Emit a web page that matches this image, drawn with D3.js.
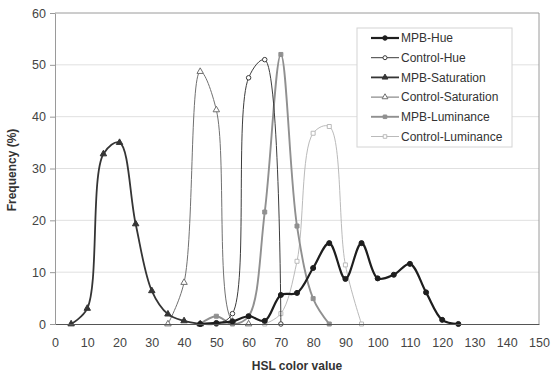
<!DOCTYPE html>
<html>
<head>
<meta charset="utf-8">
<script src="https://cdn.jsdelivr.net/npm/d3@7"></script>
<style>
  body { margin: 0; background: #fff; }
  svg { font-family: "Liberation Sans", Arial, sans-serif; }
</style>
</head>
<body>
<div id="viz"></div>
<script>
const width = 551;
const height = 376;
const margin = {top: 13, right: 11, bottom: 52, left: 55};

// HSL colour values (x) shared by every series, null = no point
const hslValues = [5, 10, 15, 20, 25, 30, 35, 40, 45, 50, 55, 60, 65, 70, 75, 80, 85, 90, 95, 100, 105, 110, 115, 120, 125];
const mpbHue = [null, null, null, null, null, null, null, null, 0, 0.2, 0.5, 1.5, 0.6, 5.6, 6, 10.8, 15.6, 8.7, 15.6, 8.8, 9.5, 11.6, 6.1, 0.8, 0];
const controlHue = [null, null, null, null, null, null, null, null, 0, 0, 2, 47.5, 51, 0, null, null, null, null, null, null, null, null, null, null, null];
const mpbSaturation = [0, 3, 32.8, 35, 19.3, 6.4, 1.9, 0.6, 0, null, null, null, null, null, null, null, null, null, null, null, null, null, null, null, null];
const controlSaturation = [null, null, null, null, null, null, 0, 8, 48.7, 41.3, 0.5, 0, null, null, null, null, null, null, null, null, null, null, null, null, null];
const mpbLuminance = [null, null, null, null, null, null, null, null, 0, 1.5, 0, 1.5, 21.6, 52, 18.9, 4.9, 0, null, null, null, null, null, null, null, null];
const controlLuminance = [null, null, null, null, null, null, null, null, null, null, null, null, 0, 2, 12.1, 36.8, 38.1, 11.4, 0, null, null, null, null, null, null];

const xTicks = [0, 10, 20, 30, 40, 50, 60, 70, 80, 90, 100, 110, 120, 130, 140, 150];
const yTicks = [0, 10, 20, 30, 40, 50, 60];

const series = [
  { label: 'MPB-Hue', values: mpbHue, color: '#1e1e1e', width: 2.2, symbol: d3.symbolCircle, size: 20, open: false },
  { label: 'Control-Hue', values: controlHue, color: '#3c3c3c', width: 1, symbol: d3.symbolCircle, size: 16, open: true },
  { label: 'MPB-Saturation', values: mpbSaturation, color: '#353535', width: 1.8, symbol: d3.symbolTriangle, size: 18, open: false },
  { label: 'Control-Saturation', values: controlSaturation, color: '#707070', width: 1, symbol: d3.symbolTriangle, size: 18, open: true },
  { label: 'MPB-Luminance', values: mpbLuminance, color: '#909090', width: 1.9, symbol: d3.symbolSquare, size: 16, open: false },
  { label: 'Control-Luminance', values: controlLuminance, color: '#bababa', width: 1, symbol: d3.symbolSquare, size: 16, open: true },
];

const xScale = d3.scaleLinear()
  .domain([0, 150])
  .range([margin.left, width - margin.right - 1]);

const yScale = d3.scaleLinear()
  .domain([0, 60])
  .range([height - margin.bottom, margin.top]);

const svg = d3.select('#viz')
  .append('svg')
    .attr('width', width)
    .attr('height', height);

// Horizontal gridlines
svg.append('g')
    .attr('class', 'grid')
  .selectAll('line')
  .data(yTicks.filter(d => d > 0 && d < 60))
  .join('line')
    .attr('x1', xScale(0))
    .attr('x2', xScale(150))
    .attr('y1', d => yScale(d))
    .attr('y2', d => yScale(d))
    .attr('stroke', '#e0e0e0')
    .attr('stroke-width', 1);

// Plot frame (top and right)
svg.append('path')
    .attr('d', `M${xScale(0)},${yScale(60)}H${xScale(150)}V${yScale(0)}`)
    .attr('fill', 'none')
    .attr('stroke', '#9a9a9a');

// Lines
const line = d3.line()
  .x(d => xScale(d.x))
  .y(d => yScale(d.y))
  .curve(d3.curveCatmullRom.alpha(0.5));

const toPoints = values => hslValues
  .map((x, i) => ({x: x, y: values[i]}))
  .filter(d => d.y !== null);

const seriesGroups = svg.append('g')
    .attr('class', 'series')
  .selectAll('g')
  .data(series.slice().reverse())
  .join('g');

seriesGroups.append('path')
    .attr('d', d => line(toPoints(d.values)))
    .attr('fill', 'none')
    .attr('stroke', d => d.color)
    .attr('stroke-width', d => d.width);

seriesGroups.each(function(s) {
  d3.select(this).selectAll('path.marker')
    .data(toPoints(s.values))
    .join('path')
      .attr('class', 'marker')
      .attr('transform', d => `translate(${xScale(d.x)},${yScale(d.y)})`)
      .attr('d', d3.symbol(s.symbol, s.size))
      .attr('fill', s.open ? '#fff' : s.color)
      .attr('stroke', s.color)
      .attr('stroke-width', 1);
});

// Axes
const xAxis = d3.axisBottom(xScale)
  .tickValues(xTicks)
  .tickSize(0)
  .tickPadding(14);

const xAxisGroup = svg.append('g')
    .attr('class', 'x-axis-group')
    .attr('transform', `translate(0, ${yScale(0)})`)
  .call(xAxis);
xAxisGroup.select('.domain').attr('stroke', '#555').attr('stroke-width', 1.2);
xAxisGroup.selectAll('text')
    .attr('fill', '#444')
    .style('font-size', '12.5px');

const yAxis = d3.axisLeft(yScale)
  .tickValues(yTicks)
  .tickSize(5)
  .tickSizeOuter(0)
  .tickPadding(4);

const yAxisGroup = svg.append('g')
    .attr('class', 'y-axis-group')
    .attr('transform', `translate(${margin.left}, 0)`)
  .call(yAxis);
yAxisGroup.select('.domain').attr('stroke', '#9a9a9a');
yAxisGroup.selectAll('line').attr('stroke', '#9a9a9a');
yAxisGroup.selectAll('text')
    .attr('fill', '#444')
    .style('font-size', '12.5px');

// Axis titles
svg.append('text')
    .attr('x', (xScale(0) + xScale(150)) / 2)
    .attr('y', 370)
    .attr('text-anchor', 'middle')
    .attr('fill', '#333')
    .style('font-size', '12px')
    .style('font-weight', 'bold')
    .text('HSL color value');

svg.append('text')
    .attr('transform', `translate(16, 170) rotate(-90)`)
    .attr('text-anchor', 'middle')
    .attr('fill', '#333')
    .style('font-size', '12px')
    .style('font-weight', 'bold')
    .text('Frequency (%)');

// Legend
const legend = svg.append('g')
    .attr('class', 'legend')
    .attr('transform', 'translate(357, 28)');

legend.append('rect')
    .attr('width', 155)
    .attr('height', 119)
    .attr('fill', '#fff')
    .attr('stroke', '#d4d4d4');

const legendItems = legend.selectAll('g.item')
  .data(series)
  .join('g')
    .attr('class', 'item')
    .attr('transform', (d, i) => `translate(0, ${10 + i * 19.7})`);

legendItems.append('line')
    .attr('x1', 14)
    .attr('x2', 42)
    .attr('stroke', d => d.color)
    .attr('stroke-width', d => d.width);

legendItems.append('path')
    .attr('transform', 'translate(28, 0)')
    .attr('d', d => d3.symbol(d.symbol, d.size * 0.8)())
    .attr('fill', d => d.open ? '#fff' : d.color)
    .attr('stroke', d => d.color);

legendItems.append('text')
    .attr('x', 44)
    .attr('dy', '0.35em')
    .attr('fill', '#333')
    .style('font-size', '12px')
    .text(d => d.label);
</script>
</body>
</html>
